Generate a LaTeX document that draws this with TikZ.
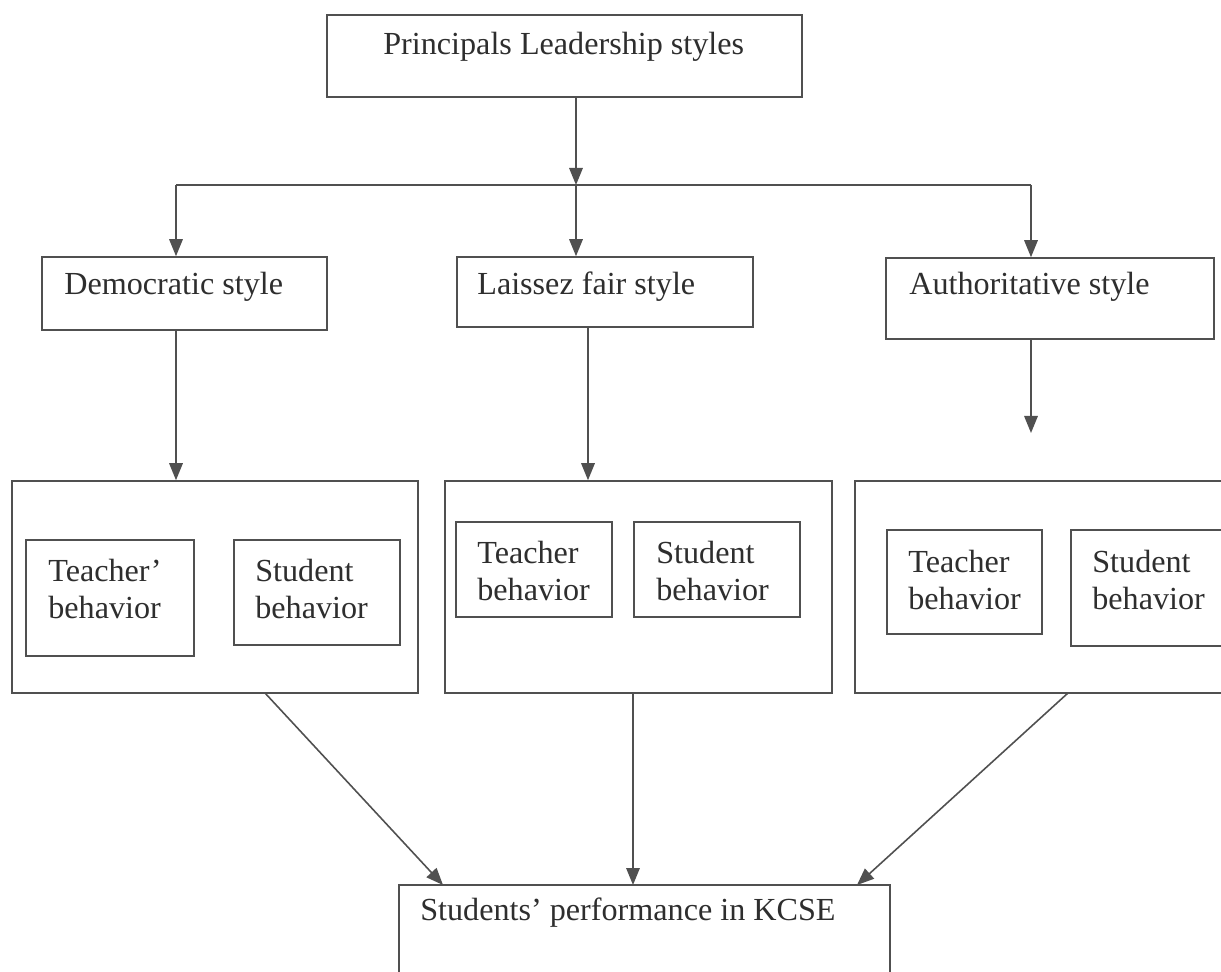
\documentclass[tikz,border=0pt]{standalone}
\usepackage{fontspec}
\setmainfont{Liberation Serif}
\usetikzlibrary{arrows.meta}
\definecolor{linegray}{HTML}{505050}
\definecolor{textgray}{HTML}{2E2E2E}
\begin{document}
\begin{tikzpicture}[x=0.02cm, y=-0.02cm,
  box/.style={draw=linegray, line width=0.9pt, inner sep=0pt},
  txt/.style={text=textgray, inner sep=0pt, anchor=west, align=left,
    font=\fontsize{18.3}{21.5}\selectfont},
  link/.style={draw=linegray, line width=0.9pt},
  arr/.style={link, -{Triangle[length=0.34cm, width=0.27cm]}}]
\clip (0,0) rectangle (1221,972);
\fill[white] (0,0) rectangle (1221,972);
\node[box, minimum width=9.5cm, minimum height=1.64cm] (top) at (564.5,56){};
\node[txt] (toptxt) at (383,47){Principals Leadership styles};
\node[box, minimum width=5.7cm, minimum height=1.46cm] (dem) at (184.5,293.5){};
\node[txt] (demtxt) at (64,287){Democratic style};
\node[box, minimum width=5.92cm, minimum height=1.4cm] (lai) at (605,292){};
\node[txt] (laitxt) at (477,287){Laissez fair style};
\node[box, minimum width=6.56cm, minimum height=1.62cm] (aut) at (1050,298.5){};
\node[txt] (auttxt) at (909,287){Authoritative style};
\node[box, minimum width=8.12cm, minimum height=4.24cm] (grp1) at (215,587){};
\node[box, minimum width=3.36cm, minimum height=2.32cm] (tea1) at (110,598){};
\node[txt] (tea1txt) at (48,589){Teacher'\\behavior};
\node[box, minimum width=3.32cm, minimum height=2.1cm] (stu1) at (317,592.5){};
\node[txt] (stu1txt) at (255,589){Student\\behavior};
\node[box, minimum width=7.74cm, minimum height=4.24cm] (grp2) at (638.5,587){};
\node[box, minimum width=3.12cm, minimum height=1.9cm] (tea2) at (534,569.5){};
\node[txt] (tea2txt) at (477,571){Teacher\\behavior};
\node[box, minimum width=3.32cm, minimum height=1.9cm] (stu2) at (717,569.5){};
\node[txt] (stu2txt) at (656,571){Student\\behavior};
\node[box, minimum width=7.6cm, minimum height=4.24cm] (grp3) at (1045,587){};
\node[box, minimum width=3.1cm, minimum height=2.08cm] (tea3) at (964.5,582){};
\node[txt] (tea3txt) at (908,580){Teacher\\behavior};
\node[box, minimum width=3.36cm, minimum height=2.32cm] (stu3) at (1155,588){};
\node[txt] (stu3txt) at (1092,580){Student\\behavior};
\node[box, minimum width=9.82cm, minimum height=2.3cm] (perf) at (644.5,942.5){};
\node[txt] (perftxt) at (420,913){Students' performance in KCSE};
\coordinate (split) at (576,185);
\coordinate (lsplit) at (176,185);
\coordinate (rsplit) at (1031,185);
\coordinate (laiout) at (588,327);
\coordinate (autend) at (1031,433);
\coordinate (g1out) at (265,693);
\coordinate (g2out) at (633,693);
\coordinate (g3out) at (1068,693);
\coordinate (pin1) at (443,885);
\coordinate (pin2) at (633,885);
\coordinate (pin3) at (857,885);
\draw[arr](split |- top.south) -- (split);
\draw[link](lsplit) -- (rsplit);
\draw[arr](lsplit) -- (lsplit |- dem.north);
\draw[arr](split) -- (split |- lai.north);
\draw[arr](rsplit) -- (rsplit |- aut.north);
\draw[arr](lsplit |- dem.south) -- (lsplit |- grp1.north);
\draw[arr](laiout) -- (laiout |- grp2.north);
\draw[arr](rsplit |- aut.south) -- (autend);
\draw[arr](g1out) -- (pin1);
\draw[arr](g2out) -- (pin2);
\draw[arr](g3out) -- (pin3);
\end{tikzpicture}
\end{document}
